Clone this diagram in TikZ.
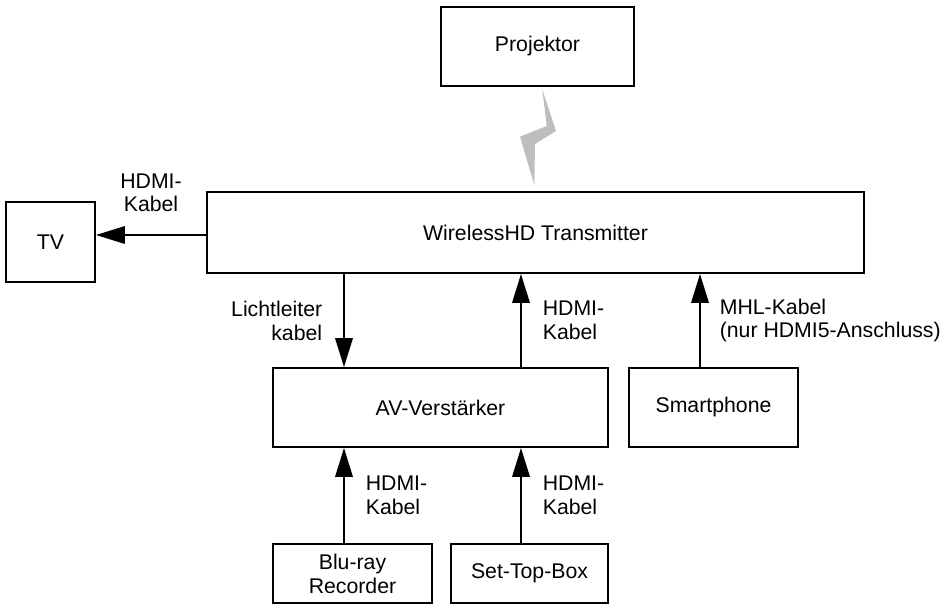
\documentclass[tikz,border=0pt]{standalone}
\usepackage{fontspec}
\setmainfont{Liberation Sans}
\usepackage{tikz}
\usetikzlibrary{arrows.meta,positioning}
\definecolor{boltgray}{HTML}{BEBEBE}

\begin{document}
\begin{tikzpicture}[
  x=0.02cm, y=-0.02cm,
  font=\fontsize{12.1}{13.6}\selectfont,
  devbox/.style={rectangle, draw, line width=1.1pt, inner sep=2pt, align=center},
  cable/.style={-{Triangle[length=0.58cm, width=0.35cm]}, line width=1.1pt}
]
\useasboundingbox (0,0) rectangle (948,605);

\node[devbox, minimum width=3.86cm, minimum height=1.58cm] (proj) at (537.5,46.5) {Projektor};
\node[devbox, minimum width=13.14cm, minimum height=1.62cm] (tx) at (535.5,232.5) {WirelessHD Transmitter};
\node[devbox, minimum width=1.78cm, minimum height=1.6cm] (tv) at (50.5,242) {TV};
\node[devbox, minimum width=6.7cm, minimum height=1.58cm] (av) at (440.5,407.5) {AV-Verstärker};
\node[devbox, minimum width=3.38cm, minimum height=1.58cm] (phone) at (713.5,407.5) {Smartphone};
\node[devbox, minimum width=3.18cm, minimum height=1.18cm] (blu) at (352.5,573.5) {Blu-ray\\Recorder};
\node[devbox, minimum width=3.14cm, minimum height=1.18cm] (stb) at (529.5,573.5) {Set-Top-Box};

% wireless link
\fill[boltgray] (542.3,89.3) -- (556,131) -- (535,144) -- (534.3,185) -- (520,136.7) -- (546.7,126) -- cycle;

\coordinate (tvline) at (0,235);
\coordinate (col1) at (344,0);
\coordinate (col2) at (521,0);
\coordinate (col3) at (700,0);

\draw[cable] (tx.west |- tvline) -- node[above=0.32cm, align=center]{HDMI-\\Kabel} (tv.east |- tvline);
\draw[cable] (tx.south -| col1) -- node[left=0.3cm, align=right]{Lichtleiter\\kabel} (av.north -| col1);
\draw[cable] (av.north -| col2) -- node[right=0.3cm, align=left]{HDMI-\\Kabel} (tx.south -| col2);
\draw[cable] (phone.north -| col3) -- node[right=0.26cm, align=left]{MHL-Kabel\\(nur HDMI5-Anschluss)} (tx.south -| col3);
\draw[cable] (blu.north -| col1) -- node[right=0.3cm, align=left]{HDMI-\\Kabel} (av.south -| col1);
\draw[cable] (stb.north -| col2) -- node[right=0.3cm, align=left]{HDMI-\\Kabel} (av.south -| col2);
\end{tikzpicture}
\end{document}
